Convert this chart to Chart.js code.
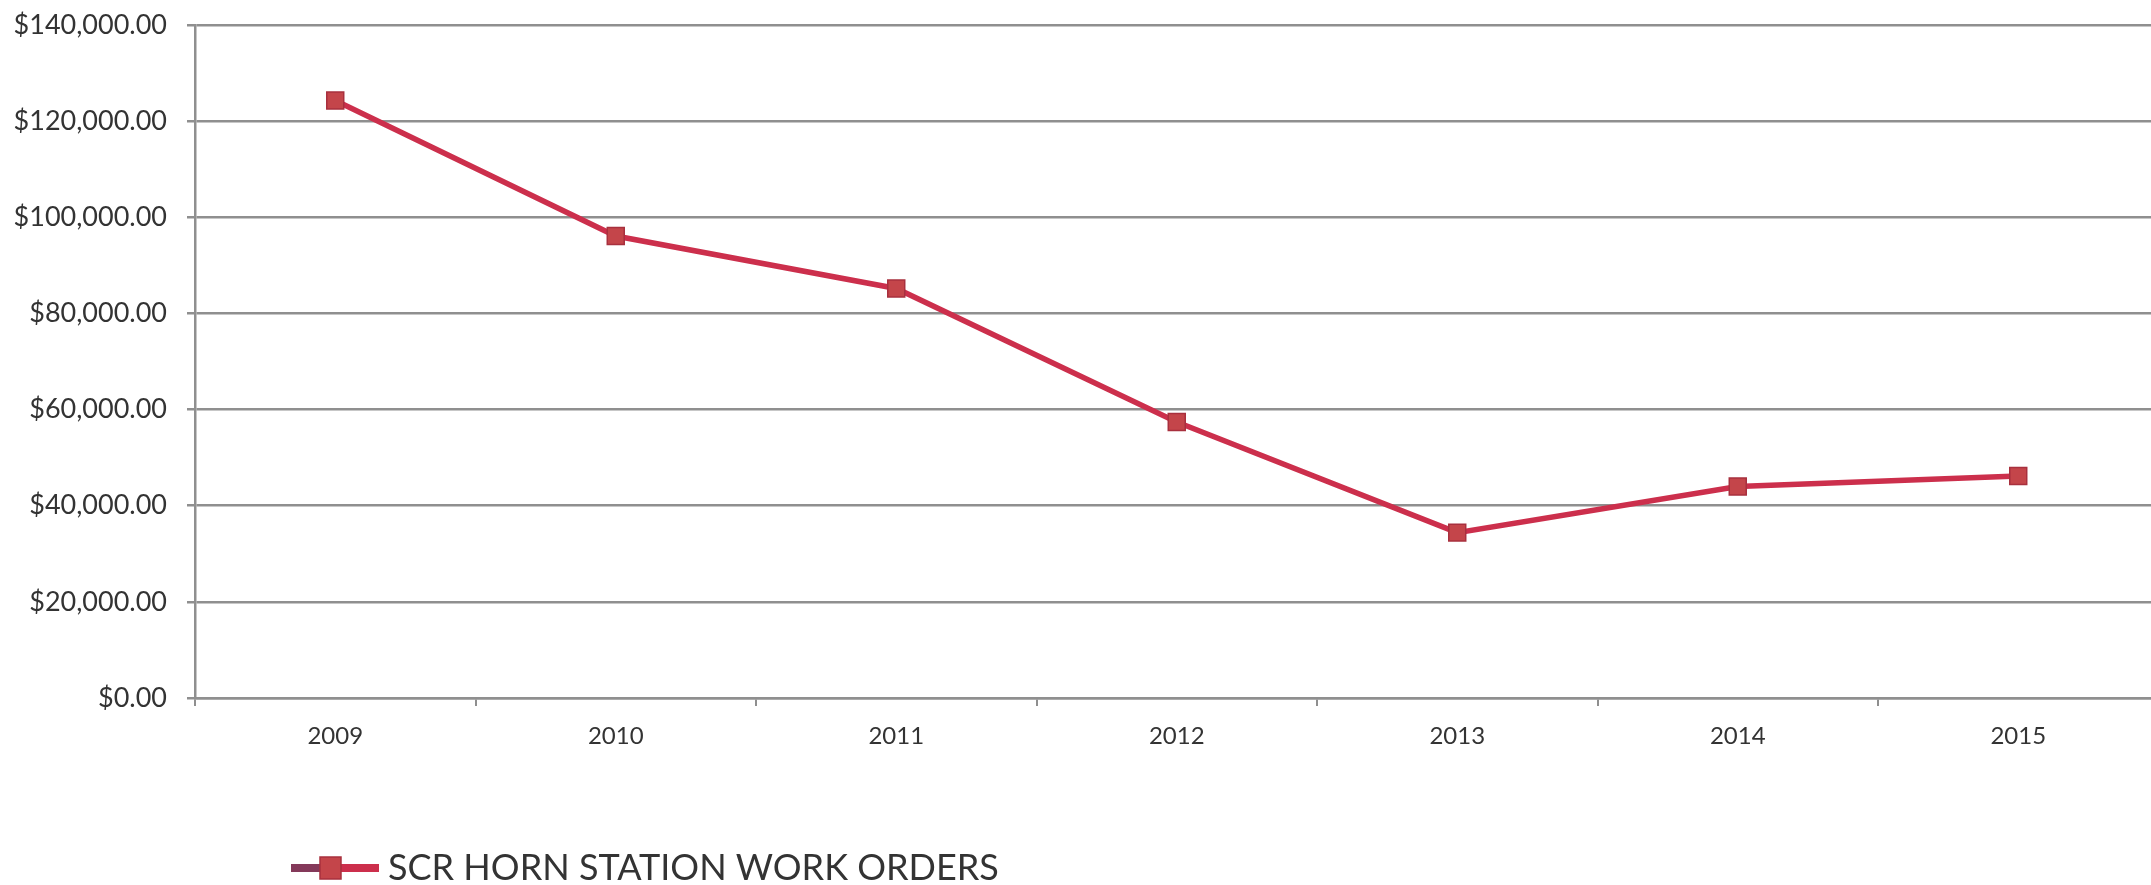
<!DOCTYPE html>
<html>
<head>
<meta charset="utf-8">
<script src="https://cdn.jsdelivr.net/npm/chart.js@4/dist/chart.umd.min.js"></script>
<style>
  html, body { margin: 0; padding: 0; background: #ffffff; overflow: hidden; width: 2151px; height: 885px; }
  canvas { position: absolute; left: 0; top: 0; }
</style>
</head>
<body>
<canvas id="chart" width="2172" height="885"></canvas>
<script>
// ---- data ----
const categories = ['2009', '2010', '2011', '2012', '2013', '2014', '2015'];
const seriesName = 'SCR HORN STATION WORK ORDERS';
const workOrderValues = [124300, 96100, 85200, 57400, 34400, 44000, 46200];
const yTickValues = [0, 20000, 40000, 60000, 80000, 100000, 120000, 140000];
const yTickLabels = ['$0.00', '$20,000.00', '$40,000.00', '$60,000.00', '$80,000.00', '$100,000.00', '$120,000.00', '$140,000.00'];

// ---- styles ----
const LINE_COLOR = '#CC2F4C';
const MARKER_FILL = '#C4454A';
const MARKER_BORDER = '#A8303E';
const GRID_COLOR = '#8f8f8f';
const TEXT_COLOR = '#333333';
const FONT_FAMILY = 'Lato, "Open Sans", sans-serif';

function makeLegendIcon() {
  const c = document.createElement('canvas');
  c.width = 88; c.height = 26;
  const g = c.getContext('2d');
  g.lineWidth = 8;
  g.strokeStyle = '#84395A';
  g.beginPath(); g.moveTo(0, 13); g.lineTo(32, 13); g.stroke();
  g.strokeStyle = LINE_COLOR;
  g.beginPath(); g.moveTo(32, 13); g.lineTo(88, 13); g.stroke();
  g.fillStyle = MARKER_FILL;
  g.fillRect(29, 2, 21, 22);
  g.strokeStyle = MARKER_BORDER; g.lineWidth = 1.5;
  g.strokeRect(29, 2, 21, 22);
  return c;
}

const legendPlace = {
  id: 'legendPlace',
  afterLayout(chart) {
    const lg = chart.legend;
    if (!lg) return;
    const h = lg.height;
    lg.left = 290;
    lg.top = 840;
    lg.bottom = lg.top + h;
  }
};

new Chart(document.getElementById('chart'), {
  type: 'line',
  data: {
    labels: categories,
    datasets: [{
      label: seriesName,
      data: workOrderValues,
      borderColor: LINE_COLOR,
      borderWidth: 5.5,
      tension: 0,
      fill: false,
      pointStyle: 'rect',
      pointRadius: 12,
      pointHoverRadius: 12,
      pointBackgroundColor: MARKER_FILL,
      pointBorderColor: MARKER_BORDER,
      pointBorderWidth: 1.5
    }]
  },
  options: {
    responsive: false,
    animation: false,
    devicePixelRatio: 1,
    layout: { padding: { top: 25, right: 5, left: 0, bottom: 0 } },
    plugins: {
      tooltip: { enabled: false },
      legend: {
        display: true,
        position: 'bottom',
        align: 'start',
        labels: {
          usePointStyle: true,
          pointStyle: makeLegendIcon(),
          pointStyleWidth: 70,
          padding: 10,
          color: '#333333',
          font: { family: FONT_FAMILY, size: 36 }
        }
      }
    },
    scales: {
      x: {
        offset: true,
        afterFit(scale) { scale.height = 131; },
        grid: {
          display: true,
          offset: true,
          drawOnChartArea: false,
          drawTicks: true,
          tickLength: 8,
          color: GRID_COLOR,
          lineWidth: 2
        },
        border: { display: true, color: GRID_COLOR, width: 2.5 },
        ticks: {
          color: TEXT_COLOR,
          padding: 16,
          maxRotation: 0,
          font: { family: FONT_FAMILY, size: 24 }
        }
      },
      y: {
        min: 0,
        max: 140000,
        afterFit(scale) { scale.width = 195; scale.paddingTop = 0; scale.paddingBottom = 0; },
        afterBuildTicks(scale) { scale.ticks = yTickValues.map(v => ({ value: v })); },
        grid: {
          color: GRID_COLOR,
          lineWidth: 2.5,
          drawTicks: true,
          tickLength: 8
        },
        border: { display: true, color: GRID_COLOR, width: 2.5 },
        ticks: {
          color: TEXT_COLOR,
          padding: 20,
          font: { family: FONT_FAMILY, size: 27 },
          callback(value) {
            const i = yTickValues.indexOf(value);
            return i >= 0 ? yTickLabels[i] : '';
          }
        }
      }
    }
  },
  plugins: [legendPlace]
});
</script>
</body>
</html>
